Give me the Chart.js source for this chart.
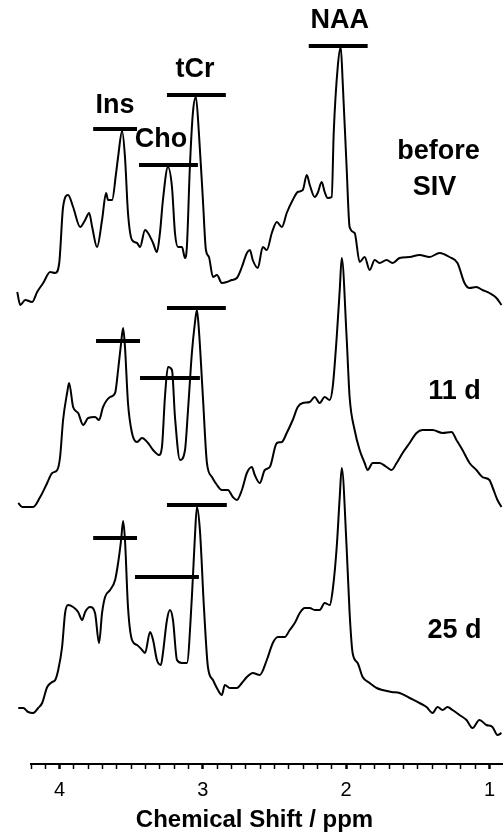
<!DOCTYPE html>
<html lang="en">
<head>
<meta charset="UTF-8">
<title>MRS spectra</title>
<script src="https://cdn.jsdelivr.net/npm/chart.js"></script>
<style>
    html, body { margin: 0; padding: 0; background: #fff; }
    canvas { display: block; }
</style>
</head>
<body>
<canvas id="spectra" width="503" height="834"></canvas>
<script>
    // chemical shift (ppm) and intensity of each trace
    var ppmBefore = [4.296,4.275,4.240,4.192,4.157,4.115,4.066,4.031,4.003,3.976,3.941,3.906,3.857,3.822,3.794,3.773,3.739,3.704,3.676,3.662,3.634,3.606,3.592,3.564,3.544,3.523,3.495,3.460,3.439,3.404,3.383,3.348,3.321,3.300,3.279,3.244,3.216,3.195,3.174,3.146,3.125,3.112,3.091,3.070,3.049,3.028,3.000,2.979,2.958,2.930,2.902,2.868,2.833,2.798,2.763,2.728,2.693,2.672,2.652,2.617,2.582,2.554,2.519,2.484,2.449,2.415,2.373,2.338,2.303,2.275,2.254,2.220,2.199,2.171,2.150,2.129,2.101,2.087,2.059,2.038,2.024,1.997,1.976,1.941,1.906,1.871,1.836,1.801,1.767,1.718,1.676,1.627,1.557,1.488,1.418,1.348,1.279,1.223,1.174,1.139,1.091,1.049,1.000,0.951,0.916];
    var intBefore = [17,4,9,7,17,26,37,36,46,102,114,102,82,89,96,82,62,89,116,109,109,136,152,178,152,96,69,66,62,79,76,66,57,76,109,142,122,76,62,62,51,62,142,196,212,176,109,59,52,32,34,26,27,29,31,42,56,59,49,41,62,59,76,87,82,96,109,117,119,134,124,112,116,127,117,111,112,176,242,262,226,142,82,76,47,52,39,49,46,49,46,51,52,54,52,56,52,46,26,21,22,19,16,11,4];

    var ppm11d = [4.289,4.261,4.226,4.185,4.136,4.087,4.052,4.017,3.997,3.976,3.948,3.934,3.906,3.871,3.836,3.801,3.753,3.725,3.697,3.648,3.613,3.592,3.571,3.557,3.544,3.523,3.495,3.460,3.425,3.383,3.348,3.307,3.286,3.265,3.244,3.216,3.195,3.160,3.125,3.104,3.077,3.056,3.042,3.028,3.000,2.972,2.937,2.902,2.868,2.826,2.791,2.763,2.728,2.693,2.659,2.638,2.603,2.568,2.533,2.484,2.449,2.415,2.373,2.338,2.303,2.254,2.220,2.185,2.150,2.115,2.094,2.066,2.045,2.031,1.997,1.976,1.941,1.906,1.871,1.850,1.815,1.767,1.718,1.683,1.648,1.606,1.557,1.509,1.467,1.397,1.327,1.265,1.230,1.188,1.139,1.091,1.049,1.000,0.979,0.944,0.916];
    var int11d = [6,2,2,2,12,26,36,39,52,89,116,126,102,96,84,91,92,89,102,112,116,139,166,181,162,106,76,67,71,66,59,54,62,112,142,139,92,49,59,99,156,186,199,179,112,46,32,24,19,19,12,9,19,36,42,34,26,39,42,66,67,76,89,102,106,107,112,106,112,109,122,172,219,251,172,112,79,59,46,39,46,46,42,39,46,56,66,76,79,79,76,77,69,59,46,39,32,29,22,9,2];

    var ppm25d = [4.289,4.254,4.220,4.185,4.150,4.122,4.087,4.052,4.031,4.010,3.983,3.962,3.941,3.906,3.871,3.843,3.822,3.787,3.753,3.725,3.704,3.683,3.648,3.613,3.592,3.571,3.557,3.544,3.523,3.495,3.460,3.425,3.404,3.369,3.348,3.321,3.293,3.279,3.251,3.230,3.209,3.181,3.146,3.112,3.077,3.056,3.042,3.021,2.993,2.965,2.930,2.895,2.868,2.847,2.812,2.763,2.728,2.693,2.652,2.603,2.554,2.512,2.477,2.429,2.394,2.359,2.324,2.289,2.254,2.220,2.185,2.150,2.115,2.094,2.066,2.045,2.031,1.997,1.976,1.955,1.920,1.885,1.836,1.787,1.746,1.683,1.627,1.557,1.488,1.439,1.397,1.362,1.327,1.293,1.258,1.209,1.160,1.118,1.070,1.021,0.979,0.944,0.916];
    var int25d = [6,6,2,1,6,11,27,32,34,44,67,101,109,107,102,94,102,107,101,71,101,117,124,134,151,174,193,174,107,74,69,64,61,82,74,54,49,61,94,104,94,54,51,51,117,177,207,184,107,47,34,24,19,29,26,26,31,37,41,39,54,71,77,77,84,91,101,106,106,104,104,111,109,124,167,217,246,167,101,61,51,37,31,26,24,22,21,16,11,7,1,7,4,7,4,-1,-6,-14,-6,-11,-13,-21,-19];

    // vertical offset of each trace in the stack
    var offsets = [455, 255, 50];

    // peak level bars: [from ppm, to ppm, intensity]
    var barsBefore = [[3.766, 3.460, 180], [3.446, 3.035, 144], [3.251, 2.840, 214], [2.261, 1.850, 263]];
    var bars11d = [[3.746, 3.439, 168], [3.439, 3.021, 131], [3.251, 2.840, 201]];
    var bars25d = [[3.766, 3.460, 176], [3.474, 3.028, 137], [3.251, 2.833, 209]];

    // x axis ticks (every 0.1 ppm, labelled at whole numbers)
    var xTicks = [4.2,4.1,4.0,3.9,3.8,3.7,3.6,3.5,3.4,3.3,3.2,3.1,3.0,2.9,2.8,2.7,2.6,2.5,2.4,2.3,2.2,2.1,2.0,1.9,1.8,1.7,1.6,1.5,1.4,1.3,1.2,1.1,1.0];
    var xTicksMajor = [4, 3, 2, 1];

    // text placed on the plot (ppm, stacked intensity of the baseline)
    var notes = [
        { text: 'NAA', ppm: 2.045, y: 736 },
        { text: 'tCr', ppm: 3.056, y: 687 },
        { text: 'Ins', ppm: 3.613, y: 651 },
        { text: 'Cho', ppm: 3.293, y: 617 },
        { text: 'before', ppm: 1.355, y: 605 },
        { text: 'SIV', ppm: 1.383, y: 569 },
        { text: '11 d', ppm: 1.244, y: 365 },
        { text: '25 d', ppm: 1.244, y: 126 }
    ];

    var traces = [
        { ppm: ppmBefore, val: intBefore, bars: barsBefore },
        { ppm: ppm11d, val: int11d, bars: bars11d },
        { ppm: ppm25d, val: int25d, bars: bars25d }
    ];

    var datasets = [];
    traces.forEach(function (t, i) {
        var pts = [];
        for (var k = 0; k < Math.min(t.ppm.length, t.val.length); k++) {
            pts.push({ x: t.ppm[k], y: t.val[k] + offsets[i] });
        }
        datasets.push({
            data: pts,
            borderColor: '#000',
            borderWidth: 2,
            borderJoinStyle: 'round',
            cubicInterpolationMode: 'monotone',
            pointRadius: 0,
            clip: false
        });
        t.bars.forEach(function (b) {
            datasets.push({
                data: [{ x: b[0], y: b[2] + offsets[i] }, { x: b[1], y: b[2] + offsets[i] }],
                borderColor: '#000',
                borderWidth: 4,
                borderCapStyle: 'butt',
                pointRadius: 0,
                clip: false
            });
        });
    });

    function isMajor(v) {
        return xTicksMajor.some(function (m) { return Math.abs(v - m) < 1e-6; });
    }

    var textPlugin = {
        id: 'notes',
        afterDraw: function (chart) {
            var ctx = chart.ctx;
            var xs = chart.scales.x, ys = chart.scales.y;
            ctx.save();
            ctx.fillStyle = '#000';
            ctx.textAlign = 'center';
            ctx.textBaseline = 'alphabetic';
            ctx.font = 'bold 27px "Liberation Sans", Arial, sans-serif';
            notes.forEach(function (n) {
                ctx.fillText(n.text, xs.getPixelForValue(n.ppm), ys.getPixelForValue(n.y));
            });
            // axis title, centred a little left of the plot centre as in the figure
            ctx.font = 'bold 24px "Liberation Sans", Arial, sans-serif';
            ctx.fillText('Chemical Shift / ppm', xs.getPixelForValue(2.64), 827);
            ctx.restore();
        }
    };

    new Chart(document.getElementById('spectra'), {
        type: 'line',
        data: { datasets: datasets },
        options: {
            responsive: false,
            animation: false,
            devicePixelRatio: 1,
            layout: { padding: { left: 31, right: 0, top: 0, bottom: 26 } },
            plugins: { legend: { display: false }, tooltip: { enabled: false } },
            scales: {
                x: {
                    type: 'linear',
                    reverse: true,
                    bounds: 'data',
                    min: 0.91,
                    max: 4.2,
                    afterBuildTicks: function (scale) {
                        scale.ticks = xTicks.map(function (v) { return { value: v }; });
                    },
                    afterFit: function (scale) { scale.height = 44; },
                    ticks: {
                        autoSkip: false,
                        maxRotation: 0,
                        padding: 8,
                        color: '#000',
                        font: { family: '"Liberation Sans", Arial, sans-serif', size: 20, lineHeight: 1.3 },
                        callback: function (v) { return isMajor(v) ? String(Math.round(v)) : ''; }
                    },
                    grid: {
                        drawOnChartArea: false,
                        drawTicks: true,
                        tickLength: 5,
                        tickColor: '#000',
                        tickWidth: function (c) { return c.tick && isMajor(c.tick.value) ? 2.5 : 1.5; }
                    },
                    border: { color: '#000', width: 2 }
                },
                y: { display: false, min: 0, max: 764 }
            }
        },
        plugins: [textPlugin]
    });
</script>
</body>
</html>
